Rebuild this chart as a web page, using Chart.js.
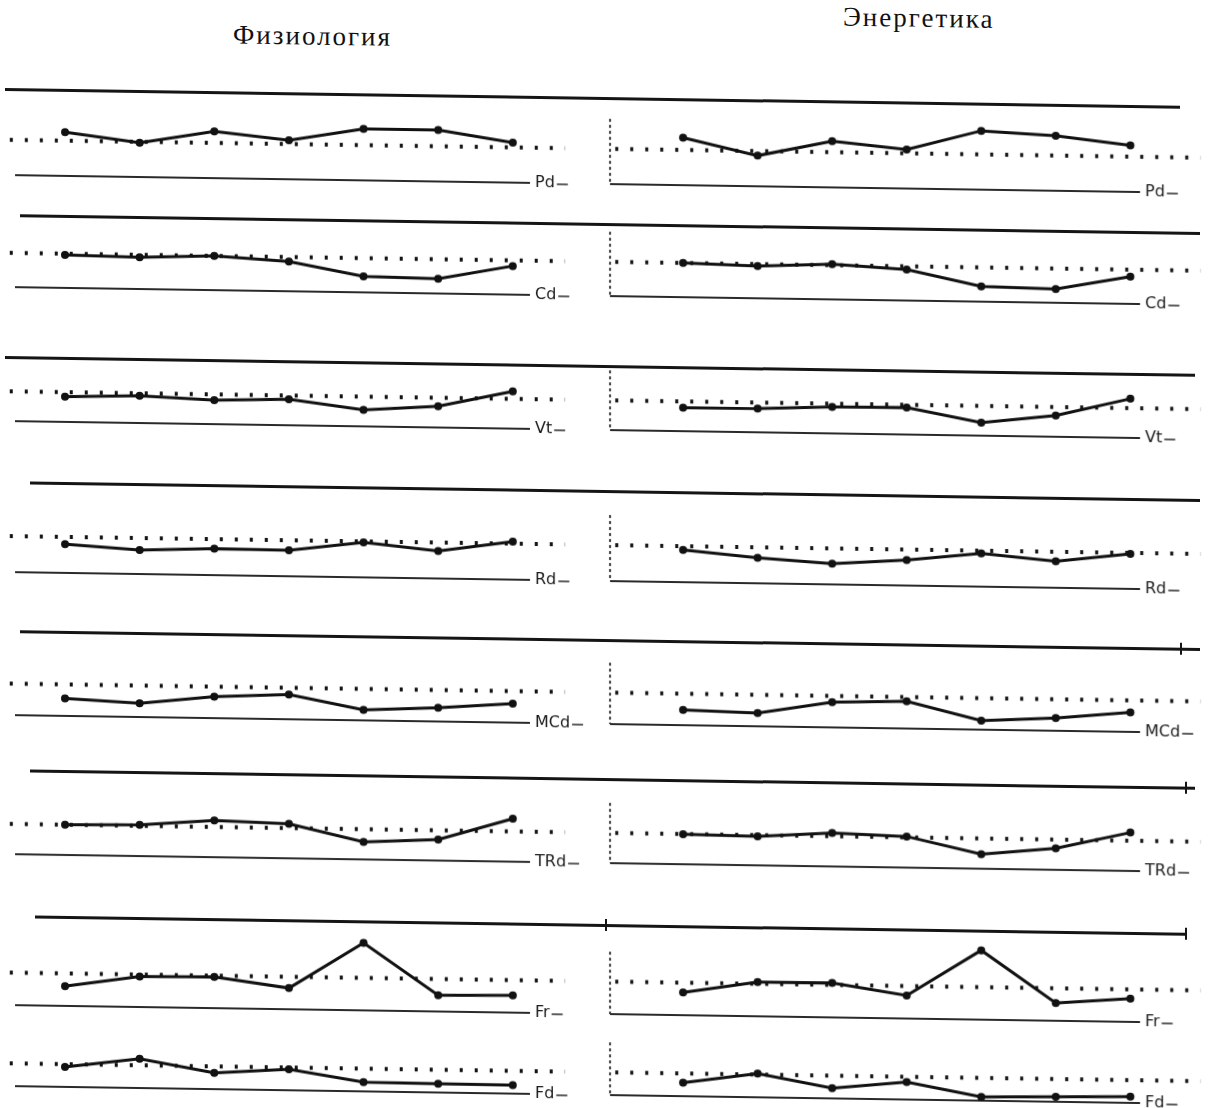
<!DOCTYPE html>
<html>
<head>
<meta charset="utf-8">
<script src="https://cdn.jsdelivr.net/npm/chart.js@4.4.0/dist/chart.umd.min.js"></script>
<style>
    body { margin: 0; background: #fff; overflow: hidden; }
    #page {
        position: relative;
        width: 1209px;
        height: 1108px;
        transform: skewY(0.86deg);
        transform-origin: 604px 554px;
    }
    .title {
        position: absolute;
        font-family: "Liberation Serif", serif;
        font-size: 27px;
        letter-spacing: 2px;
        color: #111;
        white-space: nowrap;
    }
    .rule { position: absolute; height: 3px; background: #151515; }
    .tick { position: absolute; width: 2px; height: 12px; background: #151515; }
    canvas { position: absolute; }
</style>
</head>
<body>
<div id="page">
    <div class="title" style="left:233px;top:25px">Физиология</div>
    <div class="title" style="left:843px;top:-2px">Энергетика</div>
</div>
<script>
// семь точек наблюдения
const stages = [1, 2, 3, 4, 5, 6, 7];
const metrics = ["Pd", "Cd", "Vt", "Rd", "MCd", "TRd", "Fr", "Fd"];

// отклонение от нормы (пунктир = 0), условные единицы
const physPd  = [0.9, -0.1, 1.2, 0.4, 1.7, 1.7, 0.5];
const physCd  = [-0.15, -0.26, 0.0, -0.49, -1.92, -2.05, -0.6];
const physVt  = [-0.47, -0.25, -0.6, -0.4, -1.4, -0.9, 0.8];
const physRd  = [-0.75, -1.25, -1.0, -1.05, -0.1, -0.9, 0.2];
const physMCd = [-1.47, -1.85, -1.05, -0.7, -2.2, -1.85, -1.3];
const physTRd = [0.0, 0.1, 0.67, 0.44, -1.33, -0.96, 1.33];
const physFr  = [-1.32, -0.2, -0.13, -1.18, 3.68, -1.7, -1.6];
const physFd  = [-0.28, 0.68, -0.67, -0.19, -1.43, -1.48, -1.5];

const enerPd  = [1.29, -0.48, 1.15, 0.39, 2.47, 2.07, 1.17];
const enerCd  = [0.0, -0.23, 0.1, -0.35, -2.0, -2.15, -0.75];
const enerVt  = [-0.65, -0.64, -0.33, -0.28, -1.77, -0.9, 1.0];
const enerRd  = [-0.4, -1.1, -1.6, -1.1, -0.3, -1.0, -0.1];
const enerMCd = [-1.7, -1.9, -0.65, -0.45, -2.35, -1.95, -1.25];
const enerTRd = [-0.03, -0.13, 0.33, 0.09, -1.65, -0.92, 0.85];
const enerFr  = [-1.0, 0.2, 0.22, -0.98, 3.88, -1.53, -0.95];
const enerFd  = [-0.97, 0.11, -1.31, -0.56, -2.0, -1.88, -1.73];

const physiology = [physPd, physCd, physVt, physRd, physMCd, physTRd, physFr, physFd];
const energetics = [enerPd, enerCd, enerVt, enerRd, enerMCd, enerTRd, enerFr, enerFd];

// раскладка строк на странице
const rowNorm = [146.6, 260, 398.6, 543.4, 691, 831, 980, 1071];
const rowAxis = [183.5, 296, 430, 581, 724, 862.7, 1014, 1095];
const rowRule = [
    [98, 5, 1180], [224.5, 20, 1200], [366, 5, 1195], [491.4, 30, 1200],
    [640, 20, 1200], [779, 30, 1195], [925.4, 35, 1185]
];
const ruleTicks = [[640, 1180], [779, 1185], [925.4, 605], [925.4, 1185]];

const PX_PER_UNIT = 10;
const ABOVE = 50;
const BELOW_PAD = 22;

const columns = [
    { left: 0, width: 600, padL: 15, padR: 70, xMin: -0.67, xMax: 6.23,
      normFrom: -0.74, normTo: 6.7, yAxis: false, values: physiology },
    { left: 600, width: 609, padL: 10, padR: 69, xMin: -0.98, xMax: 6.13,
      normFrom: -0.91, normTo: 6.94, yAxis: true, values: energetics },
];

const page = document.getElementById("page");

rowRule.forEach(([y, x0, x1]) => {
    const d = document.createElement("div");
    d.className = "rule";
    d.style.left = x0 + "px";
    d.style.width = (x1 - x0) + "px";
    d.style.top = (y - 1.5) + "px";
    page.appendChild(d);
});
ruleTicks.forEach(([y, x]) => {
    const t = document.createElement("div");
    t.className = "tick";
    t.style.left = x + "px";
    t.style.top = (y - 6) + "px";
    page.appendChild(t);
});

const framePlugin = {
    id: "frame",
    beforeDatasetsDraw(chart, args, opts) {
        const { ctx, chartArea } = chart;
        const y0 = chart.scales.y.getPixelForValue(0);
        ctx.save();
        ctx.strokeStyle = "#2a2a2a";
        ctx.lineWidth = 2.2;
        ctx.beginPath();
        ctx.moveTo(chartArea.left, chartArea.bottom);
        ctx.lineTo(chartArea.right, chartArea.bottom);
        ctx.stroke();
        if (opts.yAxis) {
            ctx.lineWidth = 1.8;
            ctx.setLineDash([3, 3]);
            ctx.beginPath();
            ctx.moveTo(chartArea.left, y0 - 30);
            ctx.lineTo(chartArea.left, chartArea.bottom);
            ctx.stroke();
            ctx.setLineDash([]);
        }
        ctx.fillStyle = "#1a1a1a";
        ctx.font = "16px 'DejaVu Sans'";
        ctx.textBaseline = "middle";
        ctx.fillText(opts.label, chartArea.right + 5, chartArea.bottom);
        const w = ctx.measureText(opts.label).width;
        ctx.lineWidth = 1.5;
        ctx.beginPath();
        ctx.moveTo(chartArea.right + 7 + w, chartArea.bottom + 1);
        ctx.lineTo(chartArea.right + 18 + w, chartArea.bottom + 1);
        ctx.stroke();
        ctx.restore();
    },
};

metrics.forEach((name, r) => {
    const norm = rowNorm[r];
    const axis = rowAxis[r];
    columns.forEach((col) => {
        const canvas = document.createElement("canvas");
        const top = norm - ABOVE;
        const h = axis - top + BELOW_PAD;
        canvas.width = col.width;
        canvas.height = Math.round(h);
        canvas.style.left = col.left + "px";
        canvas.style.top = top + "px";
        page.appendChild(canvas);

        const vals = col.values[r];
        new Chart(canvas.getContext("2d"), {
            type: "line",
            data: {
                datasets: [
                    {
                        label: "норма",
                        data: [{ x: col.normFrom, y: 0 }, { x: col.normTo, y: 0 }],
                        borderColor: "#111",
                        borderWidth: 4,
                        borderDash: [3, 12],
                        pointRadius: 0,
                        clip: false,
                    },
                    {
                        label: name,
                        data: stages.map((s, i) => ({ x: i, y: vals[i] })),
                        borderColor: "#111",
                        borderWidth: 3,
                        pointRadius: 4,
                        pointBackgroundColor: "#111",
                        pointBorderWidth: 0,
                        tension: 0,
                        clip: false,
                    },
                ],
            },
            options: {
                responsive: false,
                animation: false,
                layout: { padding: { left: col.padL, right: col.padR, top: 0, bottom: BELOW_PAD } },
                plugins: {
                    legend: { display: false },
                    tooltip: { enabled: false },
                    frame: { label: name, yAxis: col.yAxis },
                },
                scales: {
                    x: { type: "linear", display: false, min: col.xMin, max: col.xMax },
                    y: { display: false, min: -(axis - norm) / PX_PER_UNIT, max: ABOVE / PX_PER_UNIT },
                },
            },
            plugins: [framePlugin],
        });
    });
});
</script>
</body>
</html>
